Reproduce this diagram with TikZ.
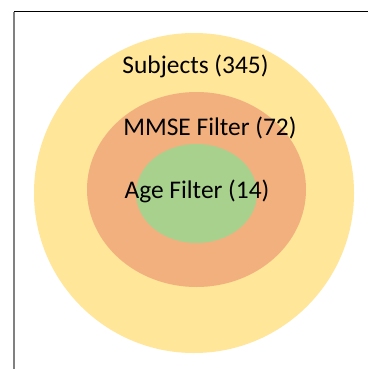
\documentclass[tikz,border=0pt]{standalone}
\usepackage{fontspec}
\setmainfont{Carlito}
\definecolor{subjyellow}{HTML}{FFE699}
\definecolor{mmseorange}{HTML}{F2B07F}
\definecolor{agegreen}{HTML}{A9D18E}
\tikzset{
    label text/.style={anchor=base, inner sep=0pt, font=\fontsize{25.4}{28}\selectfont},
}
\begin{document}
\begin{tikzpicture}[x=1pt,y=-1pt]
            \useasboundingbox (0,0) rectangle (368,369);
            \fill[white] (0,0) rectangle (368,369);
            \fill[subjyellow] (194,193) circle (160);
            \fill[mmseorange] (196.5,189.5) ellipse (109.5 and 97.5);
            \fill[agegreen] (196.5,193.5) ellipse (60.5 and 49.5);
            \draw[line width=1pt] (14,12) -- (368,12);
            \draw[gray, line width=1.3pt] (14,12) -- (14,369);
            \node[label text] (subjects) at (195.5,73) {Subjects (345)};
            \node[label text] (mmse) at (210,135) {MMSE Filter (72)};
            \node[label text] (age) at (197,198) {Age Filter (14)};
        \end{tikzpicture}
\end{document}
